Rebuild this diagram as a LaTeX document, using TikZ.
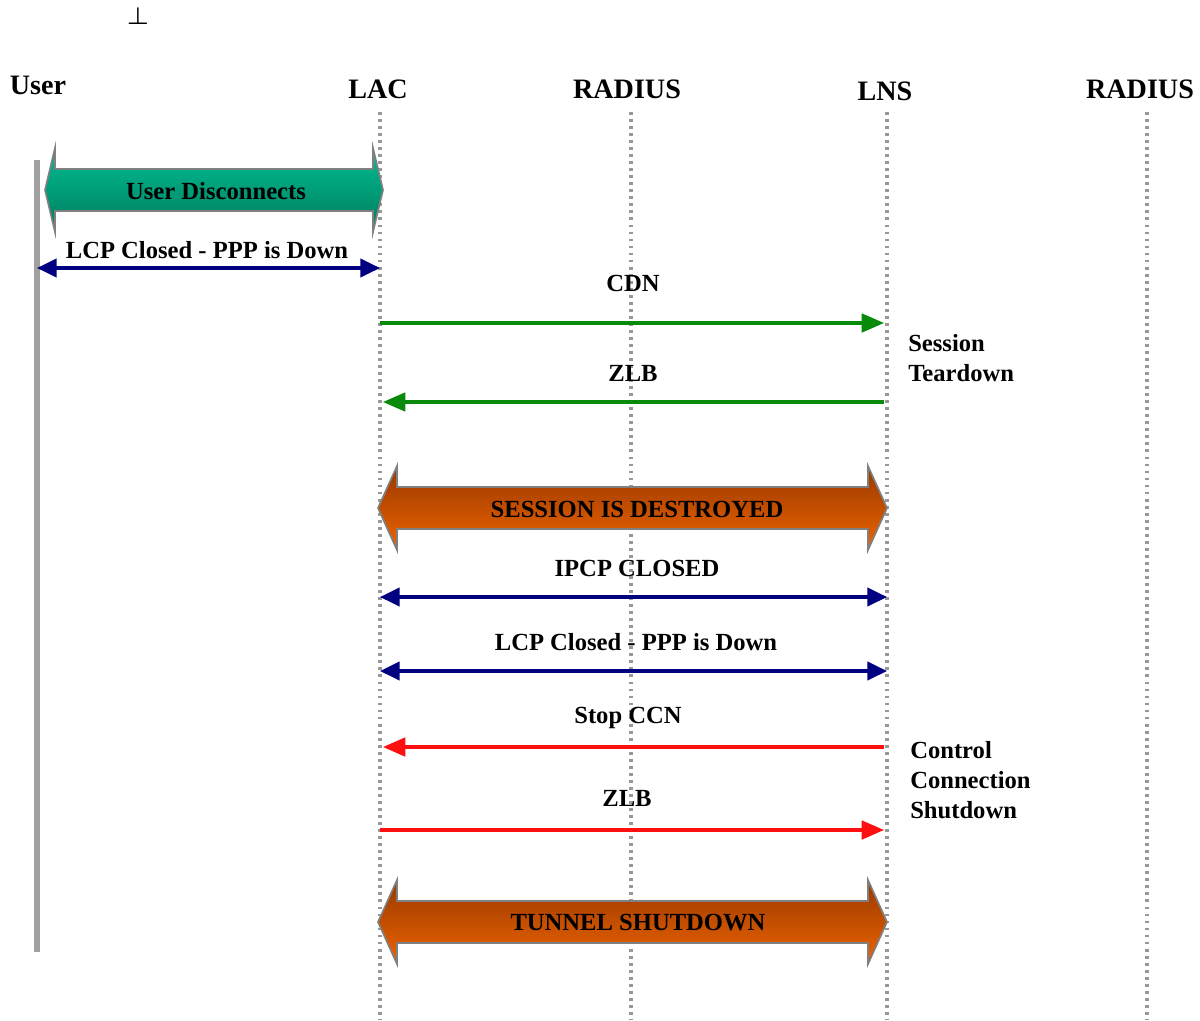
\documentclass[tikz,border=0pt]{standalone}
\usepackage{fontspec}
\setmainfont{Liberation Serif}
\usetikzlibrary{arrows.meta}
\definecolor{msggreen}{HTML}{0A8A0A}
\definecolor{msgnavy}{HTML}{000080}
\definecolor{msgred}{HTML}{FF1010}
\definecolor{lifegray}{HTML}{989898}
\definecolor{usergray}{HTML}{A0A0A0}
\definecolor{gtop}{HTML}{00C094}
\definecolor{gbot}{HTML}{007A5C}
\definecolor{otop}{HTML}{983800}
\definecolor{obot}{HTML}{EE6400}
\newcommand\fatarr[6]{%
  \shade[top color=#5,bottom color=#6,draw=gray,line width=1.2pt]
    (#1,#3) -- (#1+#4,#3-42) -- (#1+#4,#3-21) -- (#2-#4,#3-21) -- (#2-#4,#3-42)
    -- (#2,#3) -- (#2-#4,#3+42) -- (#2-#4,#3+21) -- (#1+#4,#3+21) -- (#1+#4,#3+42) -- cycle;}
\begin{document}
\begin{tikzpicture}[x=0.025cm,y=-0.025cm,
  hdr/.style={font=\fontsize{20}{22}\selectfont\bfseries, inner sep=0pt},
  lbl/.style={font=\fontsize{17.5}{21.5}\selectfont\bfseries, inner sep=0pt},
  side/.style={font=\fontsize{17.5}{21.5}\selectfont\bfseries, inner sep=0pt, anchor=north west, align=left},
  life/.style={draw=lifegray, line width=2.2pt, dash pattern=on 2pt off 3pt},
  msggreenline/.style={draw=msggreen, line width=2.8pt, -{Triangle[length=16pt,width=13pt]}},
  msgredline/.style={draw=msgred, line width=2.8pt, -{Triangle[length=16pt,width=13pt]}},
  msgnavyline/.style={draw=msgnavy, line width=2.4pt, {Triangle[length=14pt,width=13pt]}-{Triangle[length=14pt,width=13pt]}},
]
\useasboundingbox (0,0) rectangle (1200,1020);

% small mark at top
\node[inner sep=0pt, font=\fontsize{16}{16}\selectfont\boldmath] (mark) at (138,16) {$\perp$};

% headers
\node[hdr] (userH) at (38,85) {User};
\node[hdr] (lacH) at (378,89) {LAC};
\node[hdr] (rad1H) at (627,89) {RADIUS};
\node[hdr] (lnsH) at (885,91) {LNS};
\node[hdr] (rad2H) at (1140,89) {RADIUS};

% lifeline coordinates
\coordinate (user) at (37,160);
\coordinate (userB) at (37,952);
\coordinate (lac) at (380,112);
\coordinate (lacB) at (380,1020);
\coordinate (rad1) at (631,112);
\coordinate (rad1B) at (631,1020);
\coordinate (lns) at (887,112);
\coordinate (lnsB) at (887,1020);
\coordinate (rad2) at (1147,112);
\coordinate (rad2B) at (1147,1020);

\draw[life] (lac) -- (lacB);
\draw[life] (rad1) -- (rad1B);
\draw[life] (lns) -- (lnsB);
\draw[life] (rad2) -- (rad2B);
\draw[usergray, line width=3.6pt] (user) -- (userB);

% User disconnects
\fatarr{45}{383}{190}{10}{gtop}{gbot}
\node[lbl] (ud) at (216,191) {User Disconnects};

% rows
\coordinate (r1) at (0,268);
\coordinate (r2) at (0,323);
\coordinate (r3) at (0,402);
\coordinate (r4) at (0,597);
\coordinate (r5) at (0,671);
\coordinate (r6) at (0,747);
\coordinate (r7) at (0,830);

\draw[msgnavyline] (user |- r1) -- (lac |- r1);
\node[lbl] (m1) at (207,250) {LCP Closed - PPP is Down};

\draw[msggreenline] (lac |- r2) -- ([xshift=-2pt]lns |- r2);
\node[lbl] (m2) at (633,283) {CDN};

\draw[msggreenline] ([xshift=-2pt]lns |- r3) -- ([xshift=2pt]lac |- r3);
\node[lbl] (m3) at (633,373) {ZLB};

\node[side] (st) at (908,334) {Session\\Teardown};

% Session destroyed
\fatarr{378}{887}{508}{19}{otop}{obot}
\node[lbl] (sd) at (637,509) {SESSION IS DESTROYED};

\draw[msgnavyline] (lac |- r4) -- (lns |- r4);
\node[lbl] (m4) at (637,568) {IPCP CLOSED};

\draw[msgnavyline] (lac |- r5) -- (lns |- r5);
\node[lbl] (m5) at (636,642) {LCP Closed - PPP is Down};

\draw[msgredline] ([xshift=-2pt]lns |- r6) -- ([xshift=2pt]lac |- r6);
\node[lbl] (m6) at (628,718) {Stop CCN};

\draw[msgredline] (lac |- r7) -- ([xshift=-2pt]lns |- r7);
\node[lbl] (m7) at (627,798) {ZLB};

\node[side] (cc) at (910,741) {Control\\Connection\\Shutdown};

% Tunnel shutdown
\fatarr{378}{887}{922}{19}{otop}{obot}
\node[lbl] (ts) at (638,923) {TUNNEL SHUTDOWN};
\end{tikzpicture}
\end{document}
